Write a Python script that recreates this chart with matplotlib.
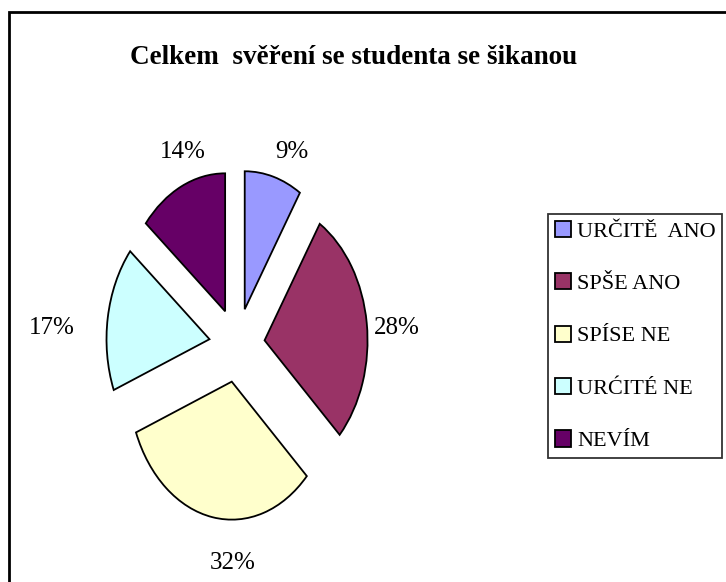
import matplotlib.pyplot as plt
from matplotlib.patches import Rectangle

# Data
categories = ['URČITĚ  ANO', 'SPŠE ANO', 'SPÍSE NE', 'URĆITÉ NE', 'NEVÍM']
values = [9, 28, 32, 17, 14]
pct_labels = ['9%', '28%', '32%', '17%', '14%']
colors = ['#9999FF', '#993366', '#FFFFCC', '#CCFFFF', '#660066']

# label centres in pie units (layout only)
label_pos = [(0.53, 1.40), (1.55, 0.12), (-0.04, -1.58), (-1.80, 0.12), (-0.53, 1.40)]

plt.rcParams['font.family'] = ['Liberation Serif', 'DejaVu Serif']

fig = plt.figure(figsize=(7.26, 5.82), dpi=100)
ax = fig.add_axes([0.1136, 0.0515, 0.4256, 0.7113])

wedges, texts = ax.pie(values, labels=pct_labels, colors=colors, startangle=90,
                       counterclock=False, explode=[0.27] * len(values),
                       wedgeprops=dict(edgecolor='black', linewidth=1.3),
                       textprops=dict(fontsize=18))
for t, p in zip(texts, label_pos):
    t.set_position(p)
    t.set_ha('center')
    t.set_va('center')

ax.set_aspect('auto')
ax.set_xlim(-1.5, 1.5)
ax.set_ylim(-1.5, 1.5)

fig.text(354 / 726, 1 - 57 / 582, 'Celkem  svěření se studenta se šikanou',
         ha='center', va='center', fontsize=19.5, fontweight='bold')

leg = fig.legend(wedges, categories, loc='upper left',
                 bbox_to_anchor=(548 / 726, 1 - 214 / 582), bbox_transform=fig.transFigure,
                 borderaxespad=0, fontsize=16, frameon=True, fancybox=False,
                 handlelength=0.75, handleheight=0.75, handletextpad=0.25,
                 labelspacing=1.42, borderpad=0.3)
leg.get_frame().set_edgecolor('black')
leg.get_frame().set_linewidth(1.3)

# outer chart border
fig.patches.append(Rectangle((9 / 726, -0.1), 1.2, 1 - 12 / 582 + 0.1, transform=fig.transFigure,
                             fill=False, edgecolor='black', linewidth=2))

fig.savefig('out.png', dpi=100)
